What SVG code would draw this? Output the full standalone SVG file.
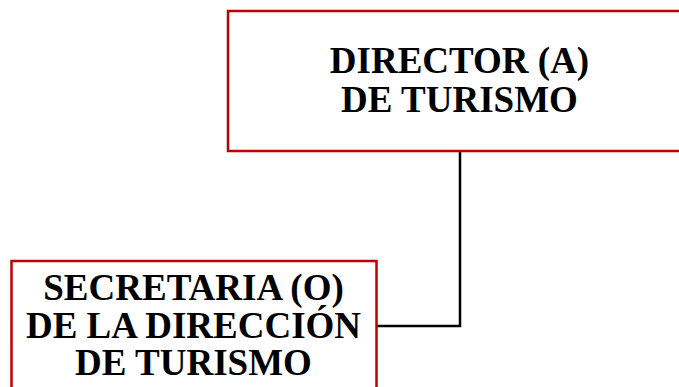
<svg xmlns="http://www.w3.org/2000/svg" width="679" height="387" viewBox="0 0 679 387">
<style>
.box{fill:#fff;stroke:#c00000;stroke-width:2.5}
.t{font-family:"Liberation Serif","Times New Roman",serif;font-weight:bold;font-size:37px;fill:#000;text-anchor:middle}
.c{fill:none;stroke:#000;stroke-width:2.5}
</style>
<rect width="679" height="387" fill="#fff"/>
<g id="connectors">
<path class="c" d="M460 151 V326 H377"/>
</g>
<g id="director">
<rect class="box" x="228" y="11" width="460" height="140"/>
<text class="t" x="459.5" y="73">DIRECTOR (A)</text>
<text class="t" x="459.5" y="112">DE TURISMO</text>
</g>
<g id="secretaria">
<rect class="box" x="11.5" y="261" width="365" height="140"/>
<text class="t" x="193.5" y="300">SECRETARIA (O)</text>
<text class="t" x="193.5" y="338">DE LA DIRECCIÓN</text>
<text class="t" x="193.5" y="375">DE TURISMO</text>
</g>
</svg>
